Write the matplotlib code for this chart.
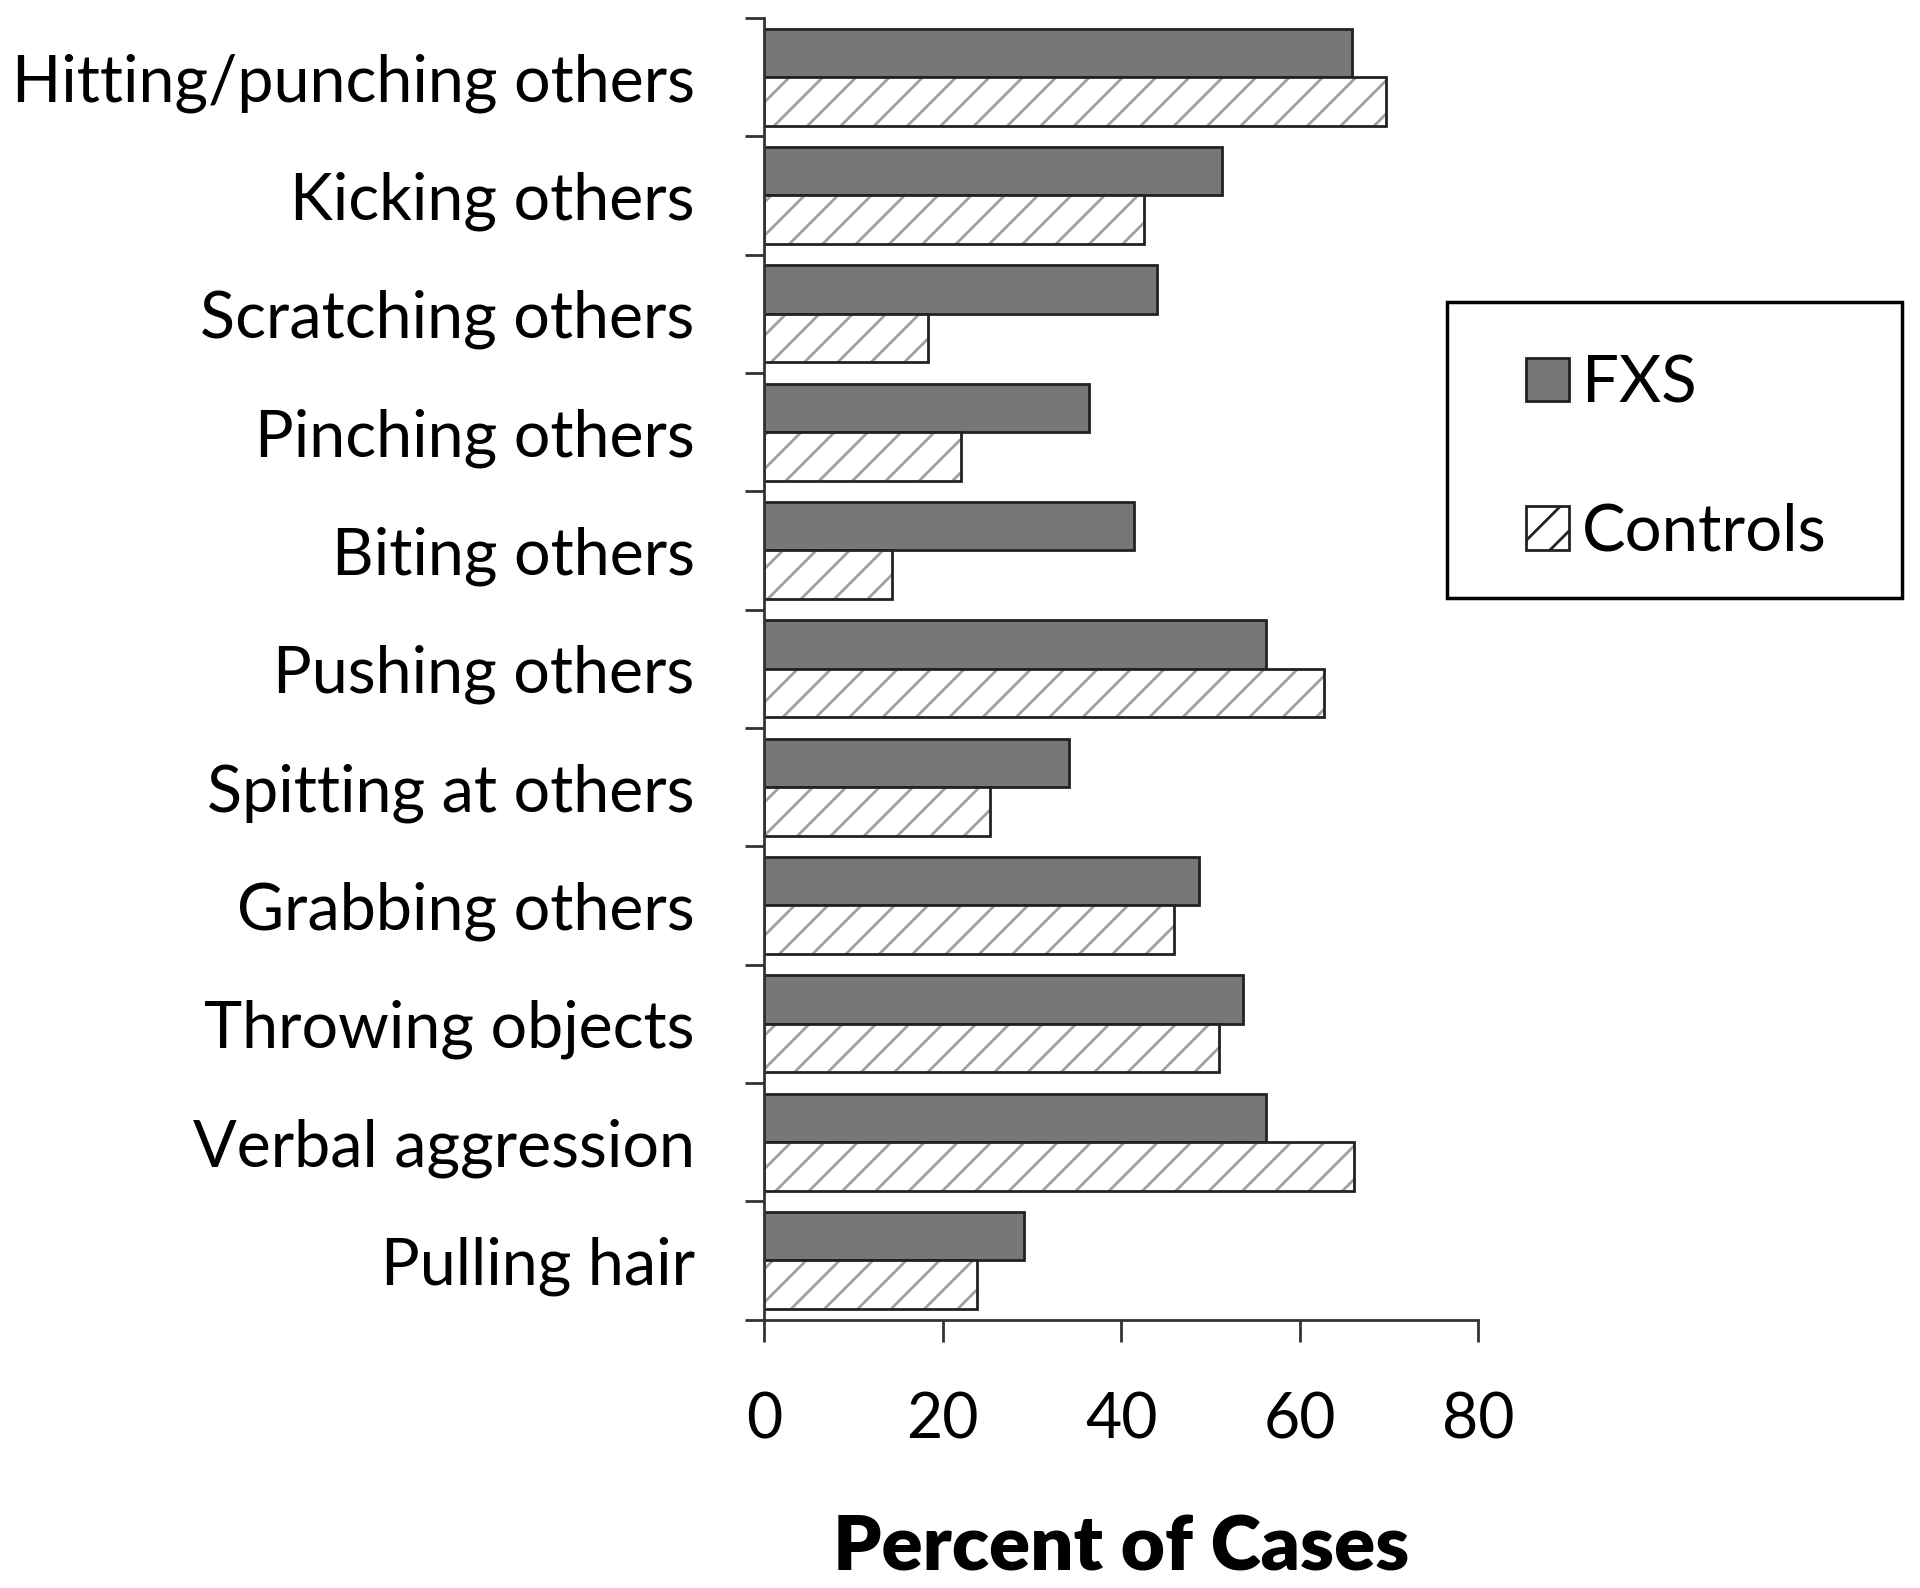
import matplotlib
matplotlib.use("Agg")
import matplotlib.pyplot as plt
import numpy as np
from matplotlib.patches import Patch, Rectangle

categories = ["Hitting/punching others", "Kicking others", "Scratching others",
              "Pinching others", "Biting others", "Pushing others",
              "Spitting at others", "Grabbing others", "Throwing objects",
              "Verbal aggression", "Pulling hair"]
fxs = [65.8, 51.3, 44.0, 36.4, 41.4, 56.2, 34.1, 48.7, 53.6, 56.2, 29.1]
controls = [69.6, 42.6, 18.4, 22.0, 14.3, 62.7, 25.3, 45.9, 50.9, 66.1, 23.8]
xticks = [0, 20, 40, 60, 80]

plt.rcParams['font.family'] = ['Lato', 'DejaVu Sans']
plt.rcParams['hatch.linewidth'] = 2.0

fig = plt.figure(figsize=(19.2, 15.88), dpi=100)
ax = fig.add_axes([0.398, 0.169, 0.372, 0.8197])

n = len(categories)
y = np.arange(n)
h = 0.41
fxs_color = "#777777"
hatch_gray = "#a0a0a0"
edge = "#222222"

ax.barh(y - h/2, fxs, height=h, color=fxs_color, edgecolor=edge, linewidth=2.0)
ax.barh(y + h/2, controls, height=h, color="white", edgecolor=hatch_gray, hatch="/", linewidth=0)
ax.barh(y + h/2, controls, height=h, color="none", edgecolor=edge, linewidth=2.0)

ax.set_ylim(n - 0.5, -0.5)
ax.set_xlim(0, 80)

ax.set_yticks(np.arange(-0.5, n, 1.0))
ax.set_yticklabels([])
ax.set_yticks(y, minor=True)
ax.set_yticklabels(categories, minor=True, fontsize=46.5)
ax.tick_params(axis='y', which='major', length=14, width=2, direction='out', color="#333333")
ax.tick_params(axis='y', which='minor', length=0, pad=50)
for lbl in ax.get_yticklabels(minor=True):
    lbl.set_va('center_baseline')

ax.set_xticks(xticks)
ax.set_xticklabels([str(v) for v in xticks], fontsize=45)
ax.tick_params(axis='x', length=16, width=2, direction='out', pad=36, color="#333333")

for s in ['top', 'right']:
    ax.spines[s].set_visible(False)
for s in ['left', 'bottom']:
    ax.spines[s].set_linewidth(2)
    ax.spines[s].set_color("#333333")

ax.set_xlabel("Percent of Cases", fontsize=55, fontweight='heavy', labelpad=46)

# legend frame
fig.patches.append(Rectangle((1447/1920, 1 - 598/1588), (1902-1447)/1920, (598-302)/1588,
                             transform=fig.transFigure, facecolor="white",
                             edgecolor="black", linewidth=2.5, zorder=5))
handles = [Patch(facecolor=fxs_color, edgecolor=edge, linewidth=2),
           Patch(facecolor="white", edgecolor=edge, hatch="/", linewidth=2)]
leg = fig.legend(handles, ["FXS", "Controls"], loc='center left',
                 bbox_to_anchor=(0.795, 0.7116), fontsize=47, frameon=False,
                 handlelength=0.65, handleheight=0.65, handletextpad=0.2,
                 labelspacing=1.37, borderpad=0, borderaxespad=0)
leg.set_zorder(6)

fig.savefig("out.png", dpi=100)
